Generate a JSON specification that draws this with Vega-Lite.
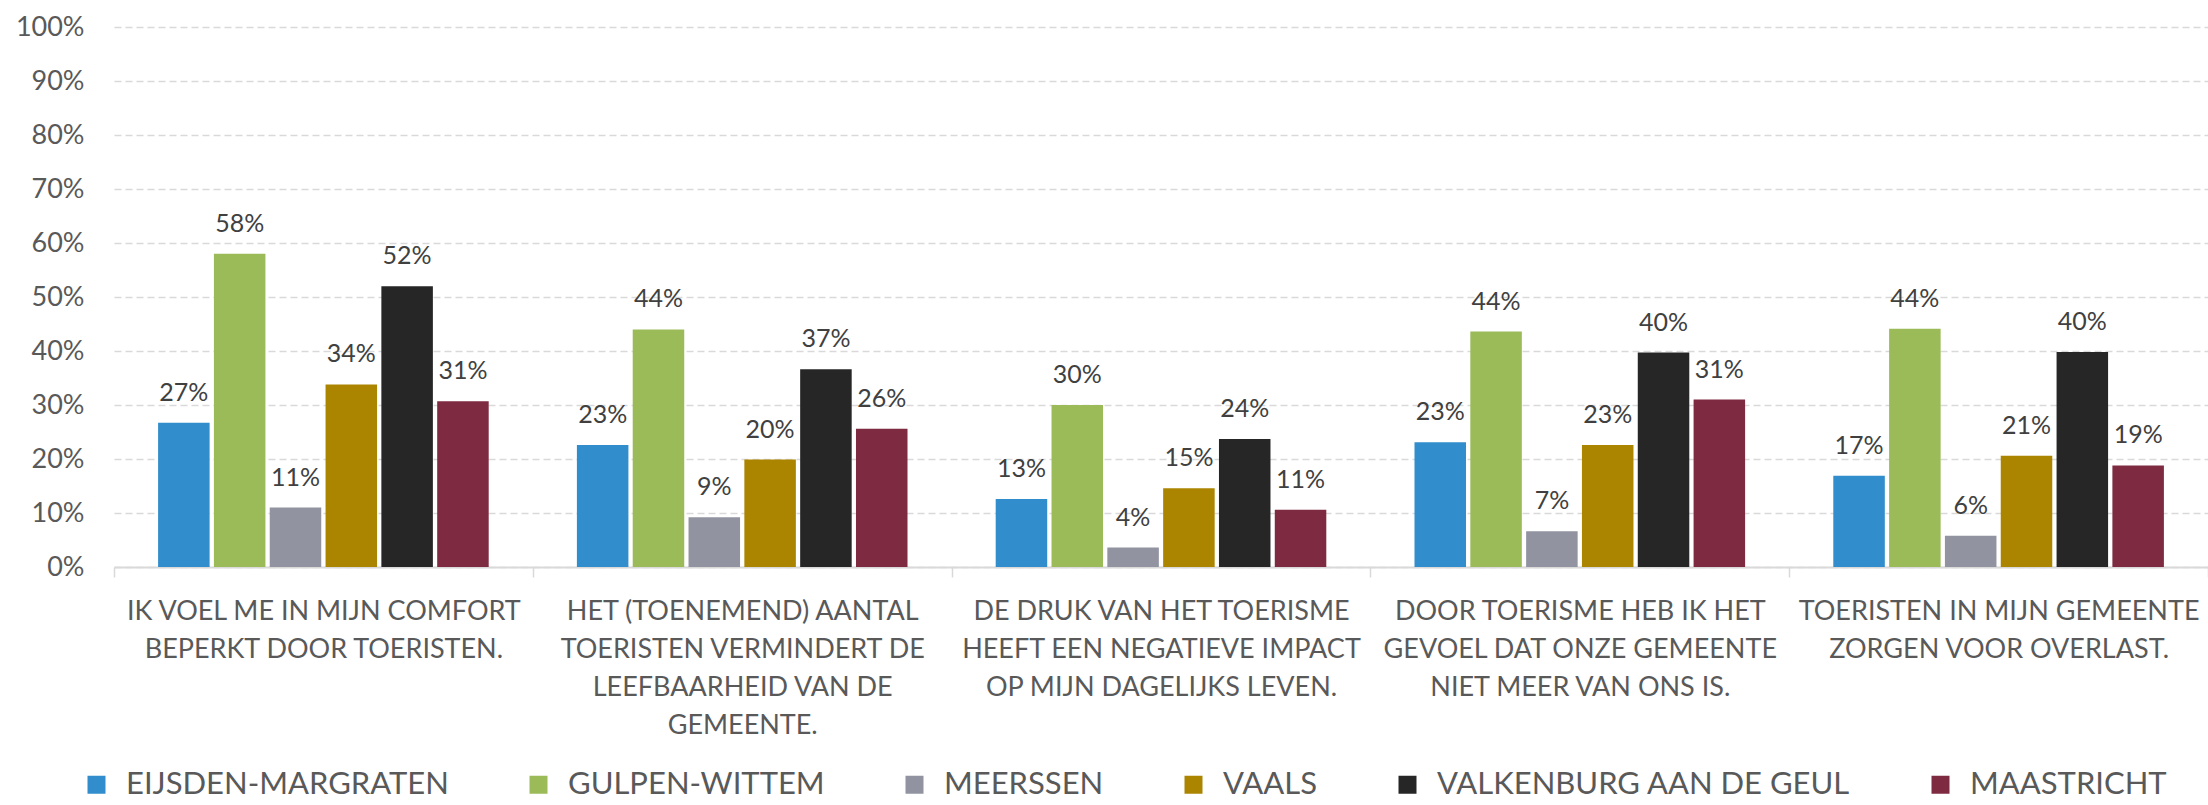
{
  "$schema": "https://vega.github.io/schema/vega-lite/v6.json",
  "width": 2094,
  "height": 540,
  "autosize": {"type": "none"},
  "padding": {"left": 114, "top": 27, "right": 0, "bottom": 238},
  "background": "white",
  "config": {"font": "Lato", "view": {"stroke": null}},
  "data": {
    "values": [
      {"cat": "IK VOEL ME IN MIJN COMFORT|BEPERKT DOOR TOERISTEN.", "gemeente": "EIJSDEN-MARGRATEN", "value": 0.267},
      {"cat": "IK VOEL ME IN MIJN COMFORT|BEPERKT DOOR TOERISTEN.", "gemeente": "GULPEN-WITTEM", "value": 0.58},
      {"cat": "IK VOEL ME IN MIJN COMFORT|BEPERKT DOOR TOERISTEN.", "gemeente": "MEERSSEN", "value": 0.11},
      {"cat": "IK VOEL ME IN MIJN COMFORT|BEPERKT DOOR TOERISTEN.", "gemeente": "VAALS", "value": 0.338},
      {"cat": "IK VOEL ME IN MIJN COMFORT|BEPERKT DOOR TOERISTEN.", "gemeente": "VALKENBURG AAN DE GEUL", "value": 0.52},
      {"cat": "IK VOEL ME IN MIJN COMFORT|BEPERKT DOOR TOERISTEN.", "gemeente": "MAASTRICHT", "value": 0.307},
      {"cat": "HET (TOENEMEND) AANTAL|TOERISTEN VERMINDERT DE|LEEFBAARHEID VAN DE|GEMEENTE.", "gemeente": "EIJSDEN-MARGRATEN", "value": 0.226},
      {"cat": "HET (TOENEMEND) AANTAL|TOERISTEN VERMINDERT DE|LEEFBAARHEID VAN DE|GEMEENTE.", "gemeente": "GULPEN-WITTEM", "value": 0.44},
      {"cat": "HET (TOENEMEND) AANTAL|TOERISTEN VERMINDERT DE|LEEFBAARHEID VAN DE|GEMEENTE.", "gemeente": "MEERSSEN", "value": 0.092},
      {"cat": "HET (TOENEMEND) AANTAL|TOERISTEN VERMINDERT DE|LEEFBAARHEID VAN DE|GEMEENTE.", "gemeente": "VAALS", "value": 0.199},
      {"cat": "HET (TOENEMEND) AANTAL|TOERISTEN VERMINDERT DE|LEEFBAARHEID VAN DE|GEMEENTE.", "gemeente": "VALKENBURG AAN DE GEUL", "value": 0.366},
      {"cat": "HET (TOENEMEND) AANTAL|TOERISTEN VERMINDERT DE|LEEFBAARHEID VAN DE|GEMEENTE.", "gemeente": "MAASTRICHT", "value": 0.256},
      {"cat": "DE DRUK VAN HET TOERISME|HEEFT EEN NEGATIEVE IMPACT|OP MIJN DAGELIJKS LEVEN.", "gemeente": "EIJSDEN-MARGRATEN", "value": 0.126},
      {"cat": "DE DRUK VAN HET TOERISME|HEEFT EEN NEGATIEVE IMPACT|OP MIJN DAGELIJKS LEVEN.", "gemeente": "GULPEN-WITTEM", "value": 0.30},
      {"cat": "DE DRUK VAN HET TOERISME|HEEFT EEN NEGATIEVE IMPACT|OP MIJN DAGELIJKS LEVEN.", "gemeente": "MEERSSEN", "value": 0.036},
      {"cat": "DE DRUK VAN HET TOERISME|HEEFT EEN NEGATIEVE IMPACT|OP MIJN DAGELIJKS LEVEN.", "gemeente": "VAALS", "value": 0.146},
      {"cat": "DE DRUK VAN HET TOERISME|HEEFT EEN NEGATIEVE IMPACT|OP MIJN DAGELIJKS LEVEN.", "gemeente": "VALKENBURG AAN DE GEUL", "value": 0.237},
      {"cat": "DE DRUK VAN HET TOERISME|HEEFT EEN NEGATIEVE IMPACT|OP MIJN DAGELIJKS LEVEN.", "gemeente": "MAASTRICHT", "value": 0.106},
      {"cat": "DOOR TOERISME HEB IK HET|GEVOEL DAT ONZE GEMEENTE|NIET MEER VAN ONS IS.", "gemeente": "EIJSDEN-MARGRATEN", "value": 0.231},
      {"cat": "DOOR TOERISME HEB IK HET|GEVOEL DAT ONZE GEMEENTE|NIET MEER VAN ONS IS.", "gemeente": "GULPEN-WITTEM", "value": 0.436},
      {"cat": "DOOR TOERISME HEB IK HET|GEVOEL DAT ONZE GEMEENTE|NIET MEER VAN ONS IS.", "gemeente": "MEERSSEN", "value": 0.066},
      {"cat": "DOOR TOERISME HEB IK HET|GEVOEL DAT ONZE GEMEENTE|NIET MEER VAN ONS IS.", "gemeente": "VAALS", "value": 0.226},
      {"cat": "DOOR TOERISME HEB IK HET|GEVOEL DAT ONZE GEMEENTE|NIET MEER VAN ONS IS.", "gemeente": "VALKENBURG AAN DE GEUL", "value": 0.397},
      {"cat": "DOOR TOERISME HEB IK HET|GEVOEL DAT ONZE GEMEENTE|NIET MEER VAN ONS IS.", "gemeente": "MAASTRICHT", "value": 0.31},
      {"cat": "TOERISTEN IN MIJN GEMEENTE|ZORGEN VOOR OVERLAST.", "gemeente": "EIJSDEN-MARGRATEN", "value": 0.169},
      {"cat": "TOERISTEN IN MIJN GEMEENTE|ZORGEN VOOR OVERLAST.", "gemeente": "GULPEN-WITTEM", "value": 0.441},
      {"cat": "TOERISTEN IN MIJN GEMEENTE|ZORGEN VOOR OVERLAST.", "gemeente": "MEERSSEN", "value": 0.058},
      {"cat": "TOERISTEN IN MIJN GEMEENTE|ZORGEN VOOR OVERLAST.", "gemeente": "VAALS", "value": 0.206},
      {"cat": "TOERISTEN IN MIJN GEMEENTE|ZORGEN VOOR OVERLAST.", "gemeente": "VALKENBURG AAN DE GEUL", "value": 0.398},
      {"cat": "TOERISTEN IN MIJN GEMEENTE|ZORGEN VOOR OVERLAST.", "gemeente": "MAASTRICHT", "value": 0.188}
    ]
  },
  "encoding": {
    "x": {
      "field": "cat",
      "type": "nominal",
      "sort": null,
      "scale": {"paddingInner": 0, "paddingOuter": 0},
      "axis": {
        "title": null,
        "labelAngle": 0,
        "labelExpr": "split(datum.label, '|')",
        "labelFontSize": 27,
        "labelColor": "#595959",
        "labelLineHeight": 38,
        "labelBaseline": "top",
        "labelPadding": 21,
        "labelLimit": 0,
        "labelOverlap": false,
        "domainColor": "#D9D9D9",
        "domainWidth": 2,
        "ticks": true,
        "tickBand": "extent",
        "tickColor": "#D9D9D9",
        "tickWidth": 1.5,
        "tickSize": 10,
        "grid": false
      }
    },
    "xOffset": {
      "field": "gemeente",
      "type": "nominal",
      "sort": ["EIJSDEN-MARGRATEN", "GULPEN-WITTEM", "MEERSSEN", "VAALS", "VALKENBURG AAN DE GEUL", "MAASTRICHT"],
      "scale": {"paddingInner": 0.077, "paddingOuter": 0.79}
    },
    "y": {
      "field": "value",
      "type": "quantitative",
      "scale": {"domain": [0, 1], "nice": false},
      "axis": {
        "title": null,
        "format": ".0%",
        "values": [0, 0.1, 0.2, 0.3, 0.4, 0.5, 0.6, 0.7, 0.8, 0.9, 1],
        "labelOverlap": false,
        "labelFontSize": 27,
        "labelColor": "#595959",
        "labelPadding": 30,
        "domain": false,
        "ticks": false,
        "grid": true,
        "gridColor": "#D9D9D9",
        "gridWidth": 1.5,
        "gridDash": [7, 4]
      }
    }
  },
  "layer": [
    {
      "mark": {"type": "bar"},
      "encoding": {
        "color": {
          "field": "gemeente",
          "type": "nominal",
          "sort": ["EIJSDEN-MARGRATEN", "GULPEN-WITTEM", "MEERSSEN", "VAALS", "VALKENBURG AAN DE GEUL", "MAASTRICHT"],
          "scale": {
            "domain": ["EIJSDEN-MARGRATEN", "GULPEN-WITTEM", "MEERSSEN", "VAALS", "VALKENBURG AAN DE GEUL", "MAASTRICHT"],
            "range": ["#318DCB", "#9BBB59", "#9193A0", "#AB8500", "#262626", "#7E2B42"]
          },
          "legend": {
            "title": null,
            "orient": "none",
            "legendX": -33,
            "legendY": 742,
            "direction": "horizontal",
            "symbolType": "square",
            "symbolSize": 324,
            "symbolStrokeWidth": 0,
            "labelFontSize": 31,
            "labelColor": "#595959",
            "labelOffset": 14,
            "labelLimit": 0,
            "columnPadding": 74
          }
        }
      }
    },
    {
      "mark": {"type": "text", "baseline": "alphabetic", "dy": -22, "fontSize": 25, "color": "#404040"},
      "encoding": {
        "text": {"field": "value", "type": "quantitative", "format": ".0%"}
      }
    }
  ]
}
